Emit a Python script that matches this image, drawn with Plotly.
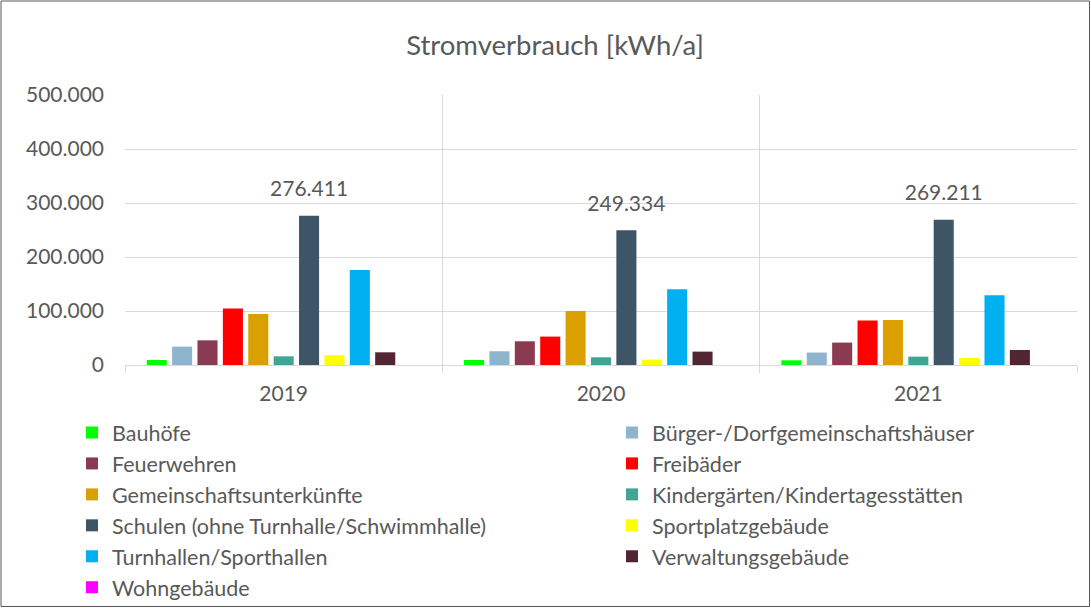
import plotly.graph_objects as go

years = ["2019", "2020", "2021"]

categories = [
    "Bauhöfe", "Bürger-/Dorfgemeinschaftshäuser", "Feuerwehren", "Freibäder",
    "Gemeinschaftsunterkünfte", "Kindergärten/Kindertagesstätten",
    "Schulen (ohne Turnhalle/Schwimmhalle)", "Sportplatzgebäude",
    "Turnhallen/Sporthallen", "Verwaltungsgebäude", "Wohngebäude",
]

bauhoefe = [9300, 9300, 8700]
buerger = [34000, 25400, 23000]
feuerwehren = [45700, 43900, 41500]
freibaeder = [104400, 52600, 82200]
gemeinschaft = [94400, 100000, 83300]
kinder = [16100, 14300, 15500]
schulen = [276411, 249334, 269211]
sportplatz = [18000, 10000, 13000]
turnhallen = [176000, 140200, 129000]
verwaltung = [23500, 24800, 27800]
wohngebaeude = [0, 0, 0]

series = [bauhoefe, buerger, feuerwehren, freibaeder, gemeinschaft, kinder,
          schulen, sportplatz, turnhallen, verwaltung, wohngebaeude]

colors = ["#00FF00", "#8FB4CE", "#8A3B52", "#FF0000", "#D9A000", "#41A594",
          "#3E5567", "#FFFF00", "#00B0F0", "#522533", "#FF00FF"]

y_ticks = [0, 100000, 200000, 300000, 400000, 500000]

FONT = "Lato"
GREY = "#595959"

fig = go.Figure()
for i, (name, vals, col) in enumerate(zip(categories, series, colors)):
    kw = {}
    if name.startswith("Schulen"):
        kw = dict(
            texttemplate="<span style='font-size:21px'>%{y:,d}</span><br>\u00a0",
            textposition="outside",
            constraintext="none",
            textfont=dict(size=11, color=GREY, family=FONT),
            cliponaxis=False,
        )
    fig.add_trace(go.Bar(
        x=years, y=vals, name=name, marker=dict(color=col, line=dict(width=0)),
        legend="legend" if i % 2 == 0 else "legend2",
        legendgroup=name,
        **kw,
    ))

W, H = 1091, 608
ml, mr, mt, mb = 125, 14, 95, 243
pw, ph = W - ml - mr, H - mt - mb

leg_common = dict(orientation="v", xref="paper", yref="paper",
                  xanchor="left", yanchor="top",
                  font=dict(size=21.5, color=GREY, family=FONT),
                  tracegroupgap=0, bgcolor="rgba(0,0,0,0)", itemclick=False)

fig.update_layout(
    width=W, height=H,
    margin=dict(l=ml, r=mr, t=mt, b=mb, autoexpand=False),
    paper_bgcolor="white", plot_bgcolor="white",
    separators=",.",
    barmode="group", bargap=0.12, bargroupgap=0.21,
    font=dict(family=FONT, color=GREY, size=21),
    title=dict(text="Stromverbrauch [kWh/a]", x=555 / W, xanchor="center",
               y=1 - 45 / H, yanchor="middle", yref="container",
               font=dict(size=27.5, color=GREY, family=FONT)),
    xaxis=dict(type="category", tickson="boundaries", showgrid=True,
               gridcolor="#D9D9D9", gridwidth=1, ticks="outside", ticklen=7,
               tickcolor="#D9D9D9", showline=True, linecolor="#D9D9D9",
               tickfont=dict(size=21, color=GREY), ticklabelstandoff=10,
               automargin=False, tickangle=0),
    yaxis=dict(range=[0, 500000], tickvals=y_ticks, tickformat=",d",
               showgrid=True, gridcolor="#D9D9D9", gridwidth=1,
               zeroline=False, showline=False, ticks="",
               tickfont=dict(size=21, color=GREY), ticklabelstandoff=20,
               automargin=False),
    legend=dict(x=(72 - ml) / pw, y=(H - mb - 412) / ph, **leg_common),
    legend2=dict(x=(612 - ml) / pw, y=(H - mb - 412) / ph, **leg_common),
    shapes=[dict(type="rect", xref="paper", yref="paper",
                 x0=(1 - ml) / pw, x1=(W - 1.5 - ml) / pw,
                 y0=(H - mb - (H - 1.5)) / ph, y1=(H - mb - 1) / ph,
                 line=dict(color="#595959", width=1), layer="below")],
)

fig.write_html("out.html", config={"displayModeBar": False},
               post_script="document.body.style.margin='0';")
